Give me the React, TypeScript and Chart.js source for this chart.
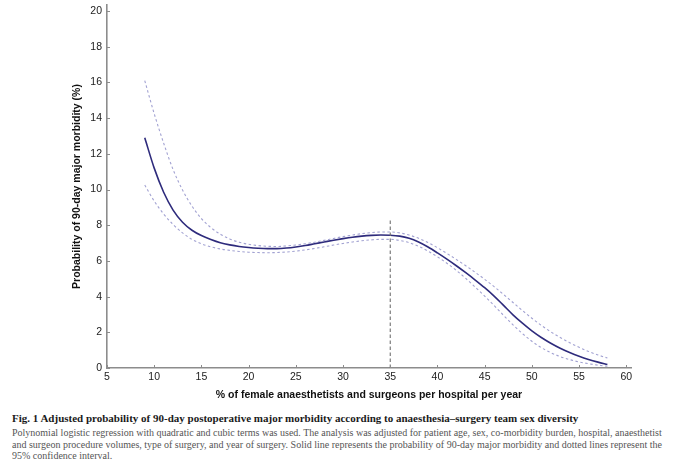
import { useEffect, useRef } from 'react';
import { Chart, registerables } from 'chart.js';

Chart.register(...registerables);

// % female anaesthetists and surgeons per hospital per year
const xValues = [9,10,11,12,13,14,15,16,17,18,19,20,21,22,23,24,25,26,27,28,29,30,31,32,33,34,35,36,37,38,39,40,41,42,43,44,45,46,47,48,49,50,51,52,53,54,55,56,57,58];
// probability of 90-day major morbidity (%)
const fitted = [12.9,11.2,9.85,8.85,8.17,7.72,7.42,7.2,7.02,6.9,6.81,6.75,6.71,6.69,6.69,6.72,6.78,6.86,6.96,7.06,7.16,7.25,7.33,7.39,7.43,7.45,7.44,7.39,7.27,7.06,6.78,6.45,6.1,5.73,5.34,4.93,4.5,4.03,3.51,2.98,2.51,2.08,1.71,1.39,1.11,0.87,0.66,0.48,0.33,0.2];
const upperCI = [16.1,14.25,12.6,11.12,9.97,9.07,8.37,7.87,7.5,7.23,7.05,6.93,6.86,6.82,6.81,6.84,6.89,6.96,7.05,7.15,7.26,7.36,7.45,7.53,7.59,7.62,7.62,7.57,7.45,7.27,7.03,6.74,6.42,6.08,5.73,5.36,4.97,4.56,4.12,3.67,3.22,2.79,2.39,2.03,1.71,1.42,1.16,0.93,0.73,0.56];
const lowerCI = [10.25,9.35,8.63,8.04,7.57,7.21,6.96,6.79,6.67,6.59,6.53,6.49,6.47,6.46,6.47,6.5,6.55,6.62,6.7,6.79,6.89,6.98,7.06,7.13,7.18,7.21,7.21,7.15,7.02,6.82,6.55,6.23,5.87,5.47,5.02,4.53,4.03,3.5,2.95,2.42,1.93,1.5,1.14,0.86,0.64,0.47,0.34,0.24,0.16,0.1];
// dashed marker at 35 %
const markerX = [35, 35];
const markerY = [0, 8.4];

const xTicks = [5,10,15,20,25,30,35,40,45,50,55,60];
const yTicks = [0,2,4,6,8,10,12,14,16,18,20];

const AXIS = '#8c8c8c';
const SANS = '"Liberation Sans", Arial, Helvetica, sans-serif';
const SERIF = '"Liberation Serif", "DejaVu Serif", serif';

const pts = (xs: number[], ys: number[]) => xs.map((x, i) => ({ x, y: ys[i] }));

// short tick marks pointing into the plot
const innerTicks = {
  id: 'innerTicks',
  afterDraw(chart: any) {
    const { ctx, chartArea: a, scales } = chart;
    ctx.save();
    ctx.strokeStyle = AXIS;
    ctx.lineWidth = 1;
    ctx.beginPath();
    scales.y.ticks.forEach((t: any) => {
      const y = Math.round(scales.y.getPixelForValue(t.value)) + 0.5;
      ctx.moveTo(a.left, y); ctx.lineTo(a.left + 3, y);
    });
    scales.x.ticks.forEach((t: any) => {
      const x = Math.round(scales.x.getPixelForValue(t.value)) + 0.5;
      ctx.moveTo(x, a.bottom); ctx.lineTo(x, a.bottom - 3);
    });
    ctx.stroke();
    ctx.restore();
  },
};

function MorbidityChart() {
  const ref = useRef<HTMLCanvasElement>(null);
  const ci = useRef<Chart | null>(null);

  useEffect(() => {
    if (!ref.current) return;
    ci.current?.destroy();
    ci.current = new Chart(ref.current, {
      type: 'line',
      data: {
        datasets: [
          { label: 'Upper 95% CI', data: pts(xValues, upperCI), borderColor: '#a2a2d2', borderWidth: 1.1, borderDash: [2.5, 2.5], pointRadius: 0, cubicInterpolationMode: 'monotone' },
          { label: 'Lower 95% CI', data: pts(xValues, lowerCI), borderColor: '#a2a2d2', borderWidth: 1.1, borderDash: [2.5, 2.5], pointRadius: 0, cubicInterpolationMode: 'monotone' },
          { label: 'Marker', data: pts(markerX, markerY), borderColor: '#707070', borderWidth: 1.1, borderDash: [3.5, 2.5], pointRadius: 0 },
          { label: 'Probability', data: pts(xValues, fitted), borderColor: '#2e2b7c', borderWidth: 1.6, pointRadius: 0, cubicInterpolationMode: 'monotone' },
        ],
      },
      options: {
        animation: false, responsive: false,
        layout: { padding: { left: 0, top: 5, right: 49, bottom: 0 } },
        plugins: { legend: { display: false }, tooltip: { enabled: false } },
        scales: {
          x: {
            type: 'linear', min: 5, max: 60.5,
            afterBuildTicks: (s: any) => { s.ticks = xTicks.map(v => ({ value: v })); },
            afterFit: (s: any) => { s.height = 37; s.paddingLeft = 0; s.paddingRight = 0; },
            grid: { drawOnChartArea: false, drawTicks: false },
            border: { color: AXIS, width: 1.6 },
            ticks: { color: '#222', padding: 3, maxRotation: 0, autoSkip: false, font: { family: SANS, size: 10.5 } },
            title: { display: true, text: '% of female anaesthetists and surgeons per hospital per year', color: '#111', padding: { top: 0, bottom: 4 }, font: { family: SANS, size: 10.5, weight: 'bold' } },
          },
          y: {
            min: 0, max: 20.34,
            afterBuildTicks: (s: any) => { s.ticks = yTicks.map(v => ({ value: v })); },
            afterFit: (s: any) => { s.width = 107; s.paddingTop = 0; s.paddingBottom = 0; },
            grid: { drawOnChartArea: false, drawTicks: false },
            border: { color: AXIS, width: 1.6 },
            ticks: { color: '#222', padding: 5, font: { family: SANS, size: 10.5 } },
            title: { display: true, text: 'Probability of 90-day major morbidity (%)', color: '#111', padding: { top: 71, bottom: 0 }, font: { family: SANS, size: 10.5, weight: 'bold' } },
          },
        },
      },
      plugins: [innerTicks],
    } as any);
    return () => { ci.current?.destroy(); ci.current = null; };
  }, []);

  return <canvas ref={ref} width={680} height={405} style={{ display: 'block', width: 680, height: 405 }} />;
}

export default function App() {
  useEffect(() => { document.body.style.margin = '0'; }, []);
  const line = { whiteSpace: 'nowrap' as const, overflow: 'hidden' };
  return (
    <div style={{ position: 'relative', width: 680, height: 471, overflow: 'hidden', background: '#fff' }}>
      <MorbidityChart />
      <div style={{ position: 'absolute', left: 12, top: 411, width: 668, fontFamily: SERIF }}>
        <div style={{ ...line, fontSize: 11, fontWeight: 'bold', color: '#1a1a1a', lineHeight: '14px' }}>
          Fig. 1 Adjusted probability of 90-day postoperative major morbidity according to anaesthesia–surgery team sex diversity
        </div>
        <div style={{ fontSize: 10, color: '#555', lineHeight: '11.5px', marginTop: 2 }}>
          <div style={line}>Polynomial logistic regression with quadratic and cubic terms was used. The analysis was adjusted for patient age, sex, co-morbidity burden, hospital, anaesthetist</div>
          <div style={line}>and surgeon procedure volumes, type of surgery, and year of surgery. Solid line represents the probability of 90-day major morbidity and dotted lines represent the</div>
          <div style={line}>95% confidence interval.</div>
        </div>
      </div>
    </div>
  );
}
